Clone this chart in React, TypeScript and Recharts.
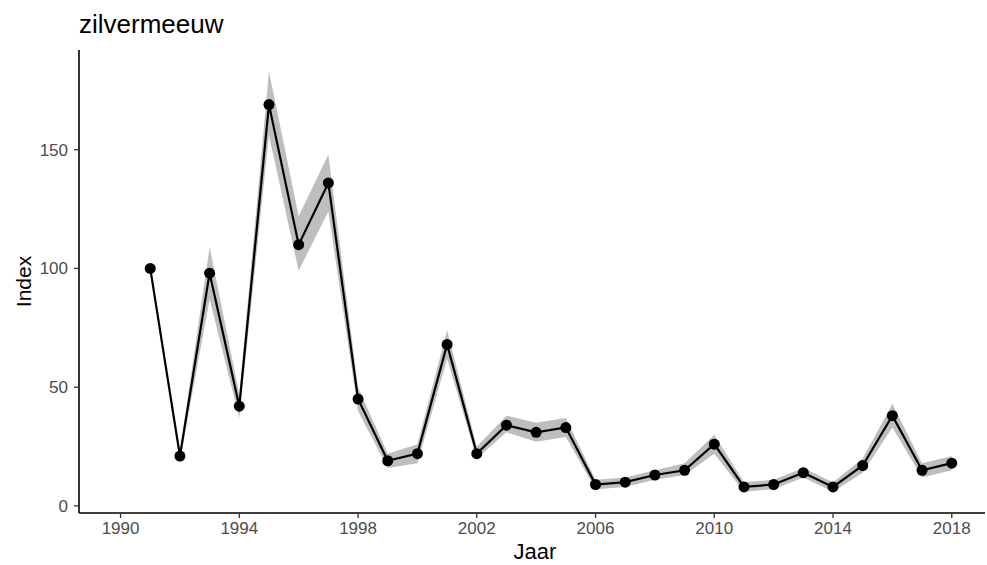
import { ComposedChart, Line, Area, XAxis, YAxis } from 'recharts';

const years = [1991, 1992, 1993, 1994, 1995, 1996, 1997, 1998, 1999, 2000, 2001, 2002, 2003, 2004,
  2005, 2006, 2007, 2008, 2009, 2010, 2011, 2012, 2013, 2014, 2015, 2016, 2017, 2018];
const indexValues = [100, 21, 98, 42, 169, 110, 136, 45, 19, 22, 68, 22, 34, 31, 33, 9, 10, 13, 15, 26,
  8, 9, 14, 8, 17, 38, 15, 18];
const lowerValues = [100, 19, 87, 37, 156, 99, 124, 40, 16, 18, 62, 20, 31, 27, 29, 7, 8, 11, 13, 22,
  6, 7, 12, 6, 14, 33, 12, 15];
const upperValues = [100, 23, 109, 47, 183, 122, 148, 50, 22, 26, 74, 25, 38, 35, 37, 11, 12, 15, 18, 30,
  10, 11, 16, 10, 20, 43, 18, 21];
const xTicks = [1990, 1994, 1998, 2002, 2006, 2010, 2014, 2018];
const yTicks = [0, 50, 100, 150];

const data = years.map((year, i) => ({
  year,
  index: indexValues[i],
  band: [lowerValues[i], upperValues[i]],
}));

const font = '"Liberation Sans", Arial, sans-serif';
const tickStyle = { fontSize: 17, fill: '#4d4d4d', fontFamily: font };

const YLabel = ({ viewBox }: any) => {
  const cy = viewBox.y + viewBox.height / 2;
  return (
    <text x={31} y={cy} transform={`rotate(-90 31 ${cy})`} textAnchor="middle"
      fontSize={21} fill="#000" fontFamily={font}>Index</text>
  );
};

const XLabel = ({ viewBox }: any) => (
  <text x={viewBox.x + viewBox.width / 2 + 3} y={559} textAnchor="middle"
    fontSize={22} fill="#000" fontFamily={font}>Jaar</text>
);

export default function App() {
  return (
    <div style={{ position: 'absolute', left: 0, top: 0, width: 987, height: 565, background: '#fff' }}>
      <div style={{ position: 'absolute', left: 79, top: 11, fontSize: 26, lineHeight: 1, fontFamily: font, color: '#000' }}>
        zilvermeeuw
      </div>
      <ComposedChart width={987} height={565} data={data} margin={{ top: 50, right: 2, bottom: 0, left: 0 }}>
        <XAxis
          dataKey="year"
          type="number"
          domain={[1988.6, 2019.12]}
          ticks={xTicks}
          allowDataOverflow
          height={52}
          tickSize={5}
          tickMargin={4}
          tick={tickStyle}
          axisLine={{ stroke: '#000', strokeWidth: 1.6 }}
          tickLine={{ stroke: '#333', strokeWidth: 1.3 }}
          label={<XLabel />}
        />
        <YAxis
          type="number"
          domain={[-3, 192]}
          ticks={yTicks}
          allowDataOverflow
          width={79}
          tickSize={5}
          tickMargin={6}
          tick={tickStyle}
          axisLine={{ stroke: '#000', strokeWidth: 1.6 }}
          tickLine={{ stroke: '#333', strokeWidth: 1.3 }}
          label={<YLabel />}
        />
        <Area
          type="linear"
          dataKey="band"
          stroke="none"
          fill="#bebebe"
          fillOpacity={1}
          dot={false}
          activeDot={false}
          isAnimationActive={false}
        />
        <Line
          type="linear"
          dataKey="index"
          stroke="#000"
          strokeWidth={2.2}
          dot={{ r: 5.5, fill: '#000', stroke: '#000', strokeWidth: 0 }}
          activeDot={false}
          isAnimationActive={false}
        />
      </ComposedChart>
    </div>
  );
}
